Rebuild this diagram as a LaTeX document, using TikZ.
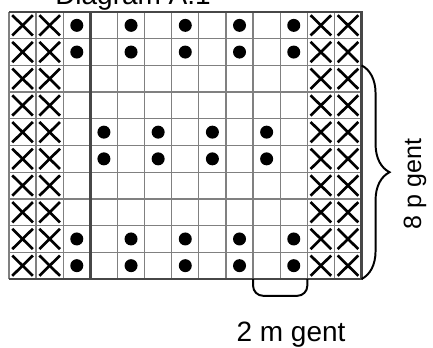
\documentclass[tikz,border=0pt]{standalone}
\usepackage{fontspec}
\setmainfont{Liberation Sans}
\usetikzlibrary{positioning,decorations.pathreplacing}

\begin{document}
\begin{tikzpicture}[
    gridline/.style={draw=black!50, line width=0.9pt},
    boldline/.style={draw=black!72, line width=2.1pt},
    knitcross/.style={line width=1.9pt},
    knitdot/.style={fill=black},
    bracketline/.style={line width=1.4pt}
]
    \useasboundingbox (-0.225,-1.7) rectangle (10.6,6.975);
    % title, cut by the top edge
    \node[anchor=base west, inner sep=0pt, font=\fontsize{19.9}{24}\selectfont] (title) at (1.15,6.875) {Diagram A.1};

    % 1. Chart
    \begin{scope}[x=0.678cm, y=0.6675cm]
        \foreach \c in {1,...,12} \draw[gridline] (\c,0) -- (\c,10);
        \foreach \r in {1,...,9} \draw[gridline] (0,\r) -- (13,\r);
        \draw[gridline] (0,0) -- (0,10);
        \draw[boldline] (0,10) -- (13,10) -- (13,0) -- (0,0);
        \draw[boldline] (3,0) -- (3,10);

        % edge stitches
        \foreach \c in {1,2,12,13}
            \foreach \r in {1,...,10} {
                \draw[knitcross] (\c-0.88,10.12-\r) -- (\c-0.12,10.88-\r);
                \draw[knitcross] (\c-0.88,10.88-\r) -- (\c-0.12,10.12-\r);
            }

        % dots
        \foreach \r in {1,2,9,10}
            \foreach \c in {3,5,7,9,11}
                \fill[knitdot] (\c-0.5,10.5-\r) circle (0.1625cm);
        \foreach \r in {5,6}
            \foreach \c in {4,6,8,10}
                \fill[knitdot] (\c-0.5,10.5-\r) circle (0.1625cm);

        % repeats
        \coordinate (braceTop) at (13,8);
        \coordinate (braceBot) at (13,0);
        \draw[bracketline, decorate, decoration={brace, amplitude=0.7cm}] (braceTop) -- (braceBot);
        \coordinate (bracketL) at (9,0);
        \coordinate (bracketR) at (11,0);
        \draw[bracketline, rounded corners=0.25cm] (bracketL) -- ++(0,-0.42cm) -| (bracketR);
    \end{scope}

    % 2. Labels
    \node[anchor=base, rotate=90, inner sep=0pt, font=\fontsize{17.8}{21}\selectfont] (rowlabel) at (10.3,2.375) {8 p gent};
    \node[anchor=base, inner sep=0pt, font=\fontsize{19.9}{24}\selectfont] (stitchlabel) at (7.05,-1.56) {2 m gent};
\end{tikzpicture}
\end{document}
